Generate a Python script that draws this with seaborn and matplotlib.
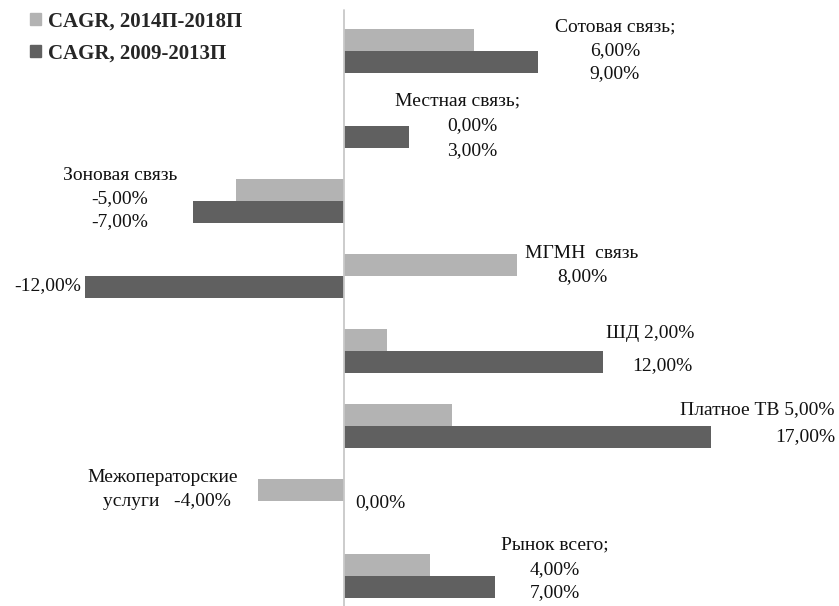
import matplotlib
matplotlib.use("Agg")
import matplotlib.pyplot as plt
import seaborn as sns
import pandas as pd
from matplotlib.patches import Patch

categories = ["Сотовая связь", "Местная связь", "Зоновая связь", "МГМН связь",
              "ШД", "Платное ТВ", "Межоператорские услуги", "Рынок всего"]
series_names = ["CAGR, 2014П-2018П", "CAGR, 2009-2013П"]
cagr_2014_2018 = [6, 0, -5, 8, 2, 5, -4, 4]
cagr_2009_2013 = [9, 3, -7, -12, 12, 17, 0, 7]
colors = ["#b3b3b3", "#606060"]

rows = []
for c, a, b in zip(categories, cagr_2014_2018, cagr_2009_2013):
    rows.append({"cat": c, "series": series_names[0], "value": a})
    rows.append({"cat": c, "series": series_names[1], "value": b})
df = pd.DataFrame(rows)

sns.set_style("white")
plt.rcParams["font.family"] = ["Liberation Serif", "DejaVu Serif"]

W, H = 839, 606
fig = plt.figure(figsize=(W / 100, H / 100), dpi=100)
ax = fig.add_axes([0, 0, 1, 1])
sns.barplot(data=df, y="cat", x="value", hue="series", order=categories,
            hue_order=series_names, palette=colors, orient="h", width=0.58,
            saturation=1, ax=ax, legend=False, linewidth=0)

zero_px, px_per = 344, 21.6
ax.set_xlim(-zero_px / px_per, (W - zero_px) / px_per)
top_px, step = 51, 75
ax.set_ylim((H - top_px) / step, -top_px / step)
ax.axis("off")
ax.axvline(0, ymin=0, ymax=1 - 10 / H, color="#c8c8c8", lw=1.3, zorder=5)

def pct(v):
    return f"{v:.2f}%".replace(".", ",")

fs = 14
def t(x, y, s, ha="center"):
    fig.text(x / W, 1 - y / H, s, ha=ha, va="center", fontsize=fs, color="#111111")

a, b = cagr_2014_2018, cagr_2009_2013
t(615, 27, "Сотовая связь;"); t(615, 51, pct(a[0])); t(615, 74, pct(b[0]))
t(458, 101, "Местная связь;"); t(472, 126, pct(a[1])); t(472, 151, pct(b[1]))
t(120, 175, "Зоновая связь"); t(120, 199, pct(a[2])); t(120, 222, pct(b[2]))
t(582, 253, "МГМН  связь"); t(582, 277, pct(a[3]))
t(81, 286, pct(b[3]), ha="right")
t(650, 334, "ШД " + pct(a[4])); t(662, 366, pct(b[4]))
t(835, 410, "Платное ТВ " + pct(a[5]), ha="right"); t(835, 437, pct(b[5]), ha="right")
t(163, 477, "Межоператорские"); t(167, 502, "услуги   " + pct(a[6]))
t(380, 503, pct(b[6]))
t(555, 545, "Рынок всего;"); t(555, 570, pct(a[7])); t(555, 593, pct(b[7]))

handles = [Patch(color=c, label=n) for c, n in zip(colors, series_names)]
fig.legend(handles=handles, loc="upper left", bbox_to_anchor=(22 / W, 1 - 3 / H),
           frameon=False, handlelength=0.5, handleheight=0.5, handletextpad=0.35,
           labelspacing=0.6, borderaxespad=0,
           prop={"family": "Liberation Serif", "weight": "bold", "size": 15})

fig.savefig("out.png", dpi=100)
